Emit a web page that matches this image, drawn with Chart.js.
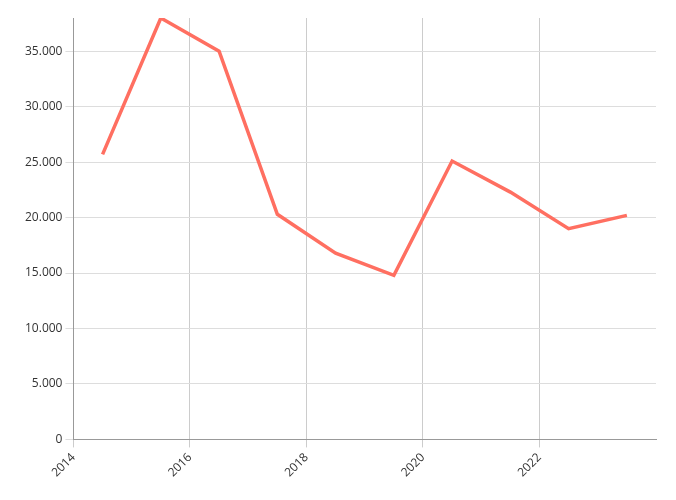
<!DOCTYPE html>
<html><head><meta charset="utf-8">
<script src="https://cdn.jsdelivr.net/npm/chart.js@4"></script>
<style>html,body{margin:0;background:#fff}#w{width:676px;height:500px}</style>
</head><body><div id="w"><canvas id="c"></canvas></div>
<script>
const years = [2014.5,2015.5,2016.5,2017.5,2018.5,2019.5,2020.5,2021.5,2022.5,2023.5];
const values = [25700,38000,35000,20300,16800,14800,25100,22300,19000,20200];
const xTicks = [2014,2016,2018,2020,2022];
const yTicks = [0,5000,10000,15000,20000,25000,30000,35000];
new Chart(document.getElementById('c'), {
  type:'line',
  data:{datasets:[{data:years.map((x,i)=>({x:x,y:values[i]})),borderColor:'#ff6f61',borderWidth:3.5,pointRadius:0,tension:0,fill:false}]},
  options:{responsive:true,maintainAspectRatio:false,animation:false,
    layout:{padding:{left:22,right:20,top:18,bottom:17}},
    plugins:{legend:{display:false},tooltip:{enabled:false}},
    scales:{
      x:{type:'linear',min:2014,max:2024,
        afterBuildTicks:a=>{a.ticks=xTicks.map(v=>({value:v}));},
        ticks:{callback:v=>String(v),maxRotation:45,minRotation:45,color:'#333',font:{family:'Open Sans',size:12}},
        grid:{color:'#ccc',drawTicks:true},border:{color:'#999'}},
      y:{min:0,max:38000,
        afterBuildTicks:a=>{a.ticks=yTicks.map(v=>({value:v}));},
        ticks:{color:'#333',font:{family:'Open Sans',size:12},callback:v=>v.toLocaleString('de-DE')},
        grid:{color:'#ddd'},border:{color:'#999'}}
    }}
});
</script></body></html>
